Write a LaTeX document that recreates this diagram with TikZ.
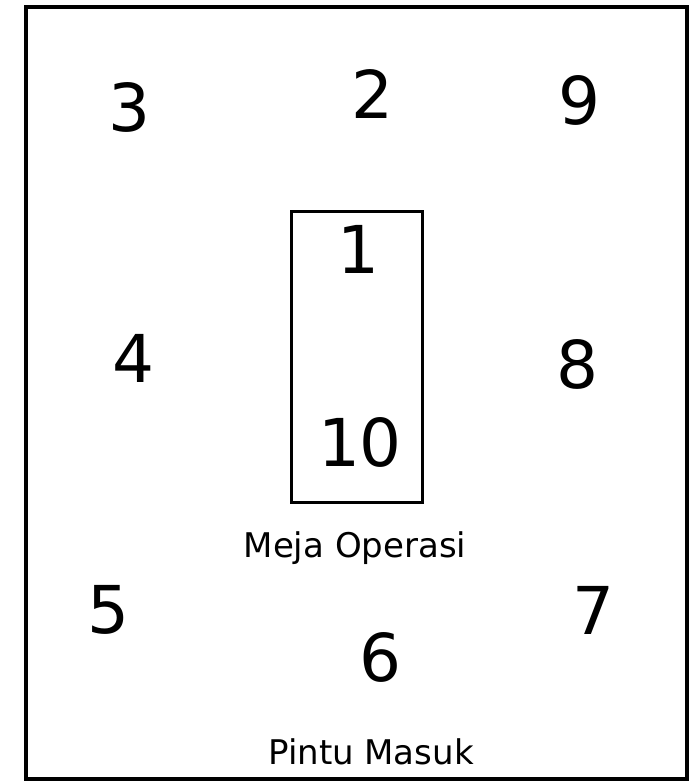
\documentclass[tikz,border=0pt]{standalone}
\usepackage{fontspec}
\setmainfont{DejaVu Sans}
\usetikzlibrary{positioning}

\begin{document}
\begin{tikzpicture}[x=1pt,y=-1pt,
  num/.style={inner sep=0pt,font=\fontsize{66}{66}\selectfont},
  lbl/.style={inner sep=0pt,anchor=base,font=\fontsize{34}{34}\selectfont}]
  \useasboundingbox (0,0) rectangle (694,781);
  % ruangan dan meja
  \draw[line width=3.5pt] (26,7) rectangle (687,779);
  \draw[line width=3pt] (291,211) rectangle (422,502);
  % posisi
  \node[num] (p1) at (358,249) {1};
  \node[num] (p2) at (372,94) {2};
  \node[num] (p3) at (129,107) {3};
  \node[num] (p4) at (133,358) {4};
  \node[num] (p5) at (108,610) {5};
  \node[num] (p6) at (380,657) {6};
  \node[num] (p7) at (593,610) {7};
  \node[num] (p8) at (577,364) {8};
  \node[num] (p9) at (579,100) {9};
  \node[num] (p10) at (360,442) {10};
  \node[lbl] (meja) at (355,557) {Meja Operasi};
  \node[lbl] (pintu) at (371,764) {Pintu Masuk};
\end{tikzpicture}
\end{document}
